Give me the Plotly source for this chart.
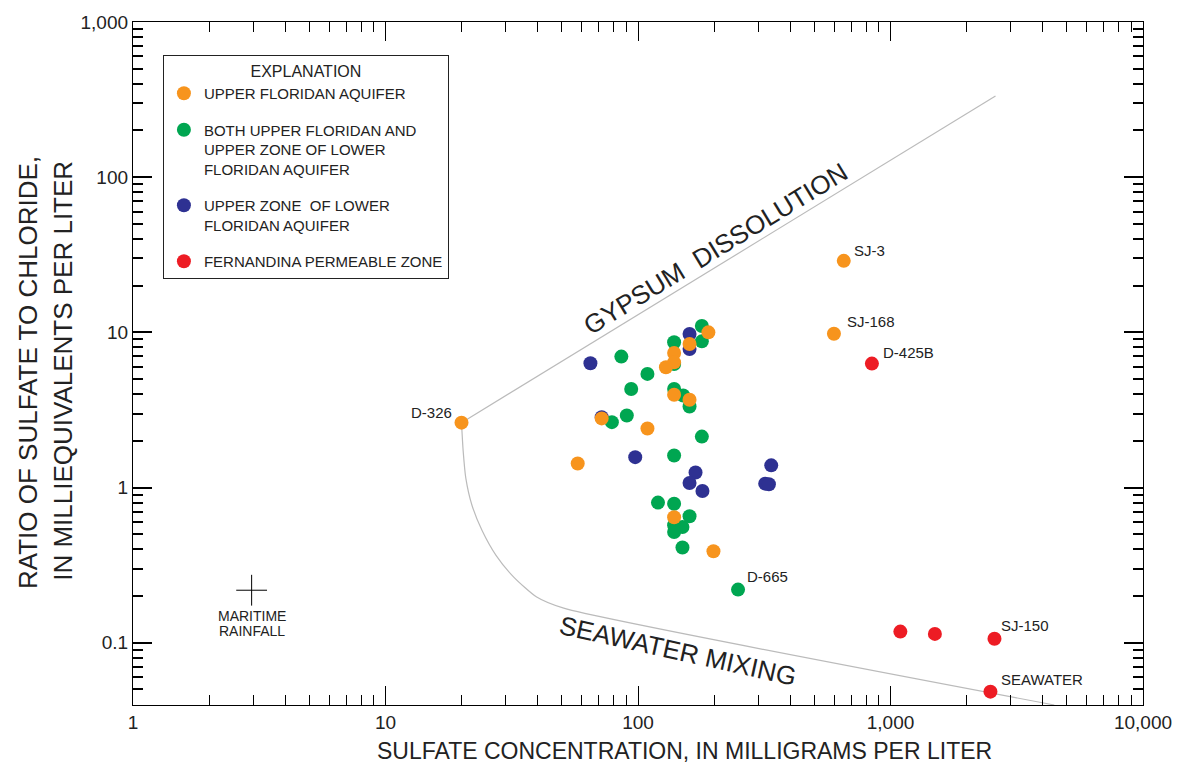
import math
import plotly.graph_objects as go

# ---------------- data ----------------
uf_x = [20, 653, 597, 57.7, 71.8, 109, 139, 199, 190, 160, 139, 139, 129, 139, 160]
uf_y = [2.62, 28.9, 9.8, 1.43, 2.79, 2.40, 0.643, 0.389, 10.0, 8.42, 7.37, 6.41, 5.96, 3.96, 3.68]

both_x = [179, 179, 139, 139, 85.9, 109, 94, 139, 151, 160, 90.3, 78.8, 179, 139,
          120, 139, 160, 139, 150, 139, 150, 249]
both_y = [11.0, 8.75, 8.63, 6.26, 6.98, 5.40, 4.32, 4.32, 3.92, 3.33, 2.91, 2.64, 2.13, 1.61,
          0.80, 0.787, 0.653, 0.571, 0.557, 0.517, 0.411, 0.220]

lower_x = [160, 160, 64.8, 71.8, 97.5, 169, 160, 180, 337, 319, 330]
lower_y = [9.77, 7.82, 6.32, 2.84, 1.57, 1.25, 1.07, 0.95, 1.39, 1.06, 1.05]

fern_x = [844, 1094, 1499, 2581, 2488]
fern_y = [6.29, 0.118, 0.114, 0.106, 0.0484]

series_names = [
    "UPPER FLORIDAN AQUIFER",
    "BOTH UPPER FLORIDAN AND<br>UPPER ZONE OF LOWER<br>FLORIDAN AQUIFER",
    "UPPER ZONE&nbsp; OF LOWER<br>FLORIDAN AQUIFER",
    "FERNANDINA PERMEABLE ZONE",
]
series_colors = ["#F7941D", "#00A651", "#2E3192", "#ED1C24"]

# reference lines
gypsum_x = [20, 2605]
gypsum_y = [2.62, 333]
mixing_x = [20, 20.3, 20.8, 22.0, 24.1, 27.4, 32.2, 39.7, 50.8, 4453]
mixing_y = [2.62, 1.73, 1.15, 0.769, 0.531, 0.366, 0.265, 0.197, 0.167, 0.0397]

rain_x = [2.95]
rain_y = [0.218]

# labeled wells: name, x, y, anchor, xshift, yshift
well_labels = [
    ("D-326", 20, 2.62, "right", -8, 10),
    ("SJ-3", 653, 28.9, "left", 8, 10),
    ("SJ-168", 597, 9.8, "left", 11, 12),
    ("D-425B", 844, 6.29, "left", 9, 11),
    ("D-665", 249, 0.220, "left", 7, 13),
    ("SJ-150", 2581, 0.106, "left", 5, 13),
    ("SEAWATER", 2488, 0.0484, "left", 9, 12),
]

x_tickvals = [1, 10, 100, 1000, 10000]
x_ticktext = ["1", "10", "100", "1,000", "10,000"]
y_tickvals = [0.1, 1, 10, 100, 1000]
y_ticktext = ["0.1", "1", "10", "100", "1,000"]

FONT = "Liberation Sans, Arial, Helvetica, sans-serif"

fig = go.Figure()

fig.add_trace(go.Scatter(x=gypsum_x, y=gypsum_y, mode="lines",
                         line=dict(color="#BBBBBB", width=1.2), showlegend=False, hoverinfo="skip"))
fig.add_trace(go.Scatter(x=mixing_x, y=mixing_y, mode="lines",
                         line=dict(color="#BBBBBB", width=1.2, shape="spline", smoothing=0.6),
                         showlegend=False, hoverinfo="skip"))

order = [(lower_x, lower_y, 2), (both_x, both_y, 1), (uf_x, uf_y, 0), (fern_x, fern_y, 3)]
for xs, ys, i in order:
    fig.add_trace(go.Scatter(
        x=xs, y=ys, mode="markers", name=series_names[i], legendgroup=str(i),
        legendrank=i + 1,
        marker=dict(color=series_colors[i], size=14, line=dict(width=0)),
    ))

fig.add_trace(go.Scatter(x=rain_x, y=rain_y, mode="markers",
                         marker=dict(symbol="cross-thin", size=22, line=dict(color="black", width=1)),
                         showlegend=False))

annotations = []
for name, x, y, anchor, xs, ys in well_labels:
    annotations.append(dict(x=math.log10(x), y=math.log10(y), xref="x", yref="y", text=name,
                            showarrow=False, xanchor=anchor, yanchor="middle", xshift=xs, yshift=ys,
                            font=dict(size=15, color="#222")))
annotations.append(dict(x=math.log10(rain_x[0]), y=math.log10(rain_y[0]), text="MARITIME", showarrow=False,
                        yshift=-26, font=dict(size=14, color="#222")))
annotations.append(dict(x=math.log10(rain_x[0]), y=math.log10(rain_y[0]), text="RAINFALL", showarrow=False,
                        yshift=-41, font=dict(size=14, color="#222")))
annotations.append(dict(x=math.log10(202), y=math.log10(34.5), text="GYPSUM&nbsp; DISSOLUTION",
                        showarrow=False, textangle=-31.4, font=dict(size=26, color="#222")))
annotations.append(dict(x=math.log10(144.5), y=math.log10(0.0885), text="SEAWATER MIXING",
                        showarrow=False, textangle=12.5, font=dict(size=26, color="#222")))
# axis titles
annotations.append(dict(x=(686 - 133) / 1013, y=-0.067, xref="paper", yref="paper",
                        text="SULFATE CONCENTRATION, IN MILLIGRAMS PER LITER", showarrow=False,
                        xanchor="center", yanchor="middle", font=dict(size=23, color="#222")))
annotations.append(dict(x=(27 - 133) / 1013, y=(705 - 372) / 684.3, xref="paper", yref="paper",
                        text="RATIO OF SULFATE TO CHLORIDE,", textangle=-90, showarrow=False,
                        xanchor="center", yanchor="middle", font=dict(size=26, color="#222")))
annotations.append(dict(x=(62 - 133) / 1013, y=(705 - 370) / 684.3, xref="paper", yref="paper",
                        text="IN MILLIEQUIVALENTS PER LITER", textangle=-90, showarrow=False,
                        xanchor="center", yanchor="middle", font=dict(size=26, color="#222")))

x_minor = [m * 10 ** d for d in range(0, 4) for m in range(2, 10)]
y_minor = [m * 10 ** d for d in range(-2, 3) for m in range(2, 10)]

axis_common = dict(showgrid=False, zeroline=False, showline=True, linecolor="black", linewidth=1.3,
                   ticks="inside", mirror="allticks", ticklen=19, tickcolor="black",
                   tickfont=dict(size=19, color="#222", family=FONT))

fig.update_xaxes(type="log", range=[0, 4], tickvals=x_tickvals, ticktext=x_ticktext, tickwidth=1.2,
                 minor=dict(ticks="inside", tickvals=x_minor, ticklen=10, tickwidth=1.2, tickcolor="black",
                            showgrid=False),
                 **axis_common)
fig.update_yaxes(type="log", range=[math.log10(0.0397), 3], tickvals=y_tickvals, ticktext=y_ticktext,
                 tickwidth=1.8,
                 minor=dict(ticks="inside", tickvals=y_minor, ticklen=10, tickwidth=1.8, tickcolor="black",
                            showgrid=False),
                 **axis_common)

fig.update_layout(
    width=1184, height=766,
    margin=dict(l=133, r=38, t=21, b=61),
    paper_bgcolor="white", plot_bgcolor="white",
    font=dict(family=FONT, color="#222"),
    annotations=annotations,
    showlegend=True,
    legend=dict(
        x=(163 - 133) / 1013, y=(705 - 54) / 684.3, xanchor="left", yanchor="top",
        bordercolor="#222", borderwidth=1, bgcolor="white",
        font=dict(size=15, color="#222", family=FONT),
        title=dict(text="EXPLANATION", side="top center", font=dict(size=16, color="#222", family=FONT)),
        tracegroupgap=14, valign="top", traceorder="grouped",
    ),
)

fig.write_html("out.html", config={"displayModeBar": False},
               post_script="document.body.style.margin='0';document.body.style.overflow='hidden';")
